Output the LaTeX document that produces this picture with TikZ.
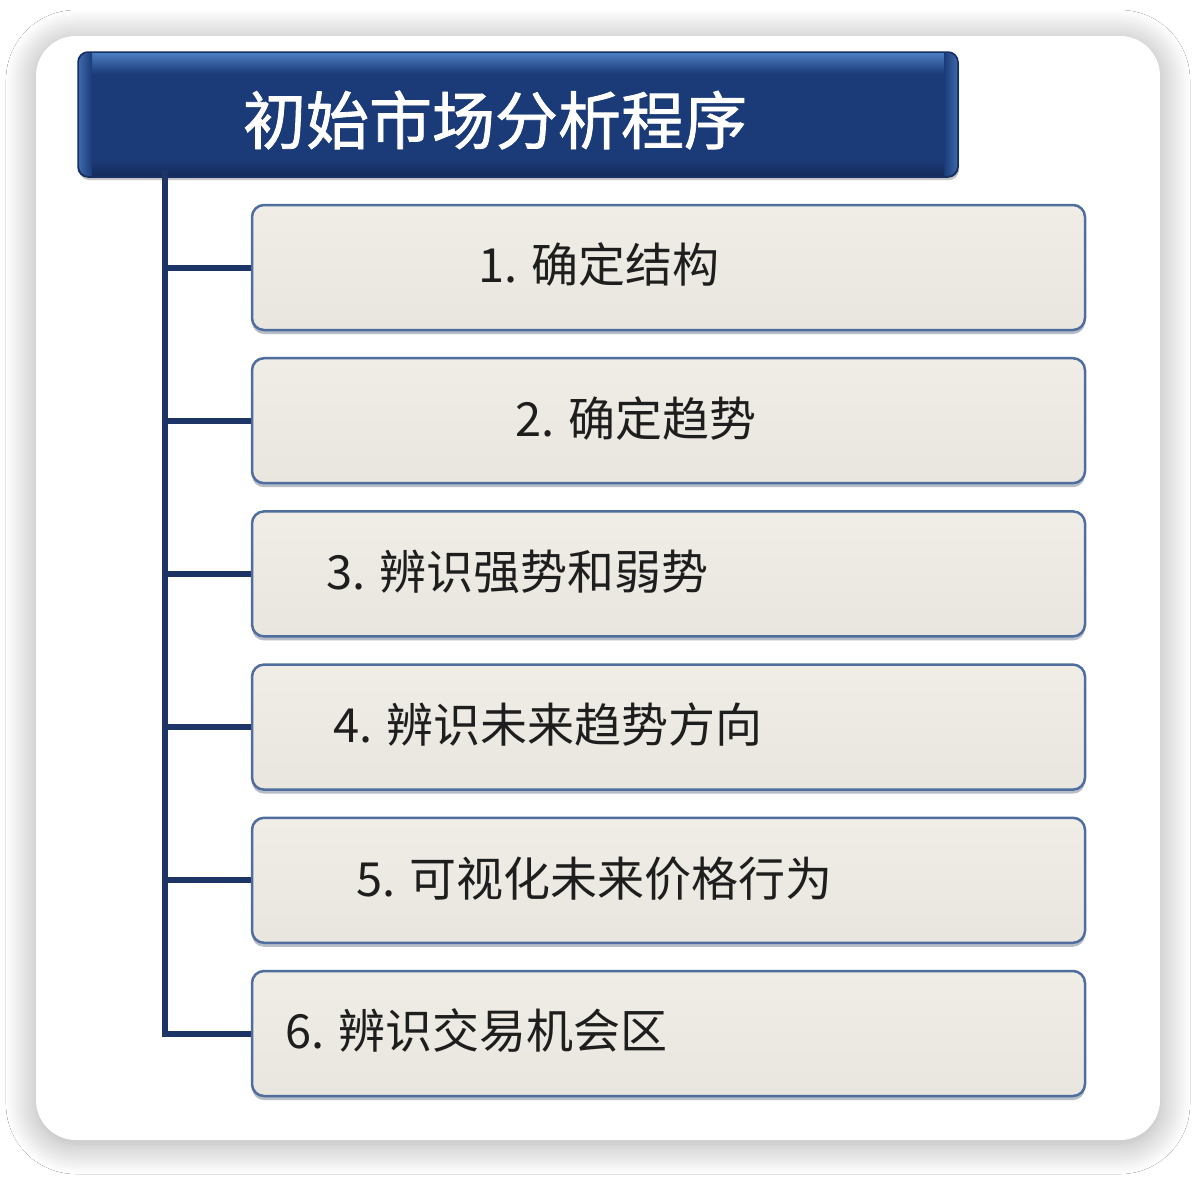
\documentclass[tikz,border=0pt]{standalone}
\usepackage{fontspec}
\newfontfamily\cjk{Noto Sans CJK SC}
\newfontfamily\cjkt[FakeBold=1.3]{Noto Sans CJK SC}
\usetikzlibrary{shadows,shadows.blur}
\definecolor{navy}{HTML}{1B3A78}
\definecolor{navyhi}{HTML}{4A7CC0}
\definecolor{navyline}{HTML}{1D3566}
\definecolor{boxfill}{HTML}{E8E6DE}
\definecolor{boxtop}{HTML}{EFEDE6}
\definecolor{boxedge}{HTML}{4F6E9E}
\definecolor{txt}{HTML}{1E1E1E}
\tikzset{
  card/.style={fill=white, rounded corners=40pt,
    blur shadow={shadow xshift=0pt, shadow yshift=-4pt, shadow blur radius=30pt,
                 shadow blur steps=30, shadow opacity=35}},
  titlebox/.style={rectangle, rounded corners=10pt, fill=navy, draw=navy!80!black,
    line width=1.5pt, minimum width=880pt, minimum height=125pt, inner sep=0pt,
    drop shadow={shadow xshift=1pt, shadow yshift=-3pt, fill=black!45, opacity=0.5}},
  stepbox/.style={rectangle, rounded corners=12pt, top color=boxtop, bottom color=boxfill,
    draw=boxedge, line width=2.5pt, minimum width=833pt, minimum height=125pt, inner sep=0pt,
    drop shadow={shadow xshift=0pt, shadow yshift=-4pt, fill=boxedge!60!black, opacity=0.35}},
  lbl/.style={font=\cjk\fontsize{47}{52}\selectfont, text=txt, inner sep=0pt, anchor=west},
  ttl/.style={font=\cjkt\fontsize{63}{68}\selectfont, text=white, inner sep=0pt},
  conn/.style={draw=navyline, line width=6pt}
}
\begin{document}
\begin{tikzpicture}[x=1pt,y=-1pt]
\useasboundingbox (0,0) rectangle (1196,1176);
\fill[white] (0,0) rectangle (1196,1176);
\path[card] (36,36) rectangle (1160,1140);

\coordinate (sp) at (165,170);

% title
\node[titlebox] (title) at (518,114.5) {};
\begin{scope}
  \clip[rounded corners=10pt] (79,53) rectangle (957,176);
  \shade[top color=navyhi, bottom color=navy] (79,53) rectangle (957,74);
  \shade[top color=navy, bottom color=navy!75!black] (79,160) rectangle (957,176);
  \shade[left color=navyhi!70!navy, right color=navy] (79,53) rectangle (92,176);
  \shade[left color=navy, right color=navyhi!70!navy] (944,53) rectangle (957,176);
\end{scope}
\node[ttl] (tt) at (495,120) {初始市场分析程序};

% boxes
\foreach \i/\yy in {1/267.5,2/420.7,3/573.9,4/727.1,5/880.3,6/1033.5}{
  \node[stepbox] (b\i) at (668.5,\yy) {};
}
\draw[conn] (sp) |- (b6.west);
\foreach \i in {1,...,5}{
  \draw[conn] (sp |- b\i.west) -- (b\i.west);
}

\node[lbl] (t1) at (478,265) {1. 确定结构};
\node[lbl] (t2) at (515,419) {2. 确定趋势};
\node[lbl] (t3) at (326,572) {3. 辨识强势和弱势};
\node[lbl] (t4) at (333,725) {4. 辨识未来趋势方向};
\node[lbl] (t5) at (356,879) {5. 可视化未来价格行为};
\node[lbl] (t6) at (285,1031) {6. 辨识交易机会区};
\end{tikzpicture}
\end{document}
